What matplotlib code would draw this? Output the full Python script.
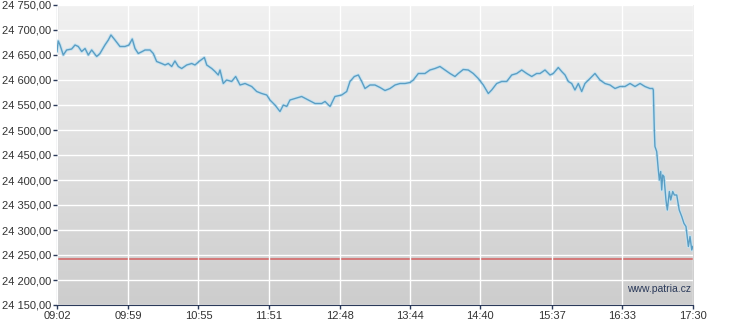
import numpy as np
import matplotlib
matplotlib.use("Agg")
import matplotlib.pyplot as plt
from matplotlib.ticker import FuncFormatter, FixedLocator
from matplotlib.colors import LinearSegmentedColormap

# minutes since 09:02
minutes = [0, 1.0, 2.4, 5.0, 7.7, 11.7, 14.4, 17.0, 19.7, 22.4, 25.0, 27.7, 31.7, 34.3, 38.3,
           41.0, 43.1, 46.3, 50.3, 54.3, 57.5, 60.1, 62.3, 64.9, 68.1, 70.3, 74.3, 76.9,
           79.6, 83.6, 86.3, 88.9, 91.6, 94.2, 96.9, 99.6, 103.6, 107.6, 110.2, 113.4,
           117.7, 119.6, 123.6, 126.2, 128.8, 130.2, 132.8, 135.5, 139.5, 142.7, 146.2,
           150.2, 152.8, 155.5, 159.5, 163.5, 167.5, 170.1, 174.1, 178.1, 180.8, 183.5,
           186.1, 190.1, 195.4, 200.7, 206.1, 211.4, 214.1, 218.1, 222.0, 227.4, 231.4,
           234.0, 237.5, 240.7, 243.4, 246.0, 250.0, 254.0, 258.0, 262.0, 266.0, 270.0,
           274.0, 278.0, 282.0, 284.6, 288.6, 293.9, 297.9, 301.9, 305.9, 309.9, 313.9,
           317.9, 320.5, 324.5, 328.5, 332.5, 336.5, 340.5, 344.5, 347.2, 351.2, 355.2,
           359.2, 363.2, 367.2, 371.2, 375.2, 379.2, 383.1, 385.8, 389.8, 393.8, 396.4,
           400.4, 403.1, 405.8, 408.4, 411.1, 413.7, 416.4, 419.1, 421.7, 425.7, 429.7,
           433.7, 437.7, 441.7, 445.7, 449.7, 453.7, 457.7, 461.7, 465.7, 469.6, 473.6,
           475.8, 476.3, 477.1, 477.6, 479.0, 480.3, 481.1, 482.2, 483.0, 483.8, 484.8,
           486.4, 487.5, 489.1, 490.2, 491.8, 493.1, 495.0, 497.0, 499.0, 500.8, 502.4,
           504.3, 505.6, 507.0, 507.8]
values = [24657, 24678, 24670, 24650, 24660, 24662, 24670, 24667, 24657, 24663, 24650,
          24660, 24647, 24653, 24670, 24680, 24690, 24680, 24667, 24667, 24670, 24682,
          24663, 24653, 24657, 24660, 24660, 24653, 24637, 24633, 24630, 24633, 24627,
          24638, 24627, 24623, 24630, 24633, 24630, 24637, 24645, 24630, 24623, 24617,
          24610, 24620, 24593, 24600, 24597, 24607, 24590, 24593, 24590, 24587, 24577,
          24573, 24570, 24560, 24550, 24537, 24550, 24547, 24560, 24563, 24567, 24560,
          24553, 24553, 24557, 24547, 24567, 24570, 24577, 24597, 24607, 24610, 24597,
          24583, 24590, 24590, 24585, 24579, 24583, 24590, 24593, 24593, 24595, 24600,
          24613, 24613, 24620, 24623, 24627, 24620, 24613, 24607, 24613, 24621, 24620,
          24613, 24603, 24590, 24573, 24580, 24593, 24597, 24597, 24610, 24613, 24620,
          24613, 24607, 24613, 24613, 24620, 24610, 24613, 24625, 24617, 24610, 24597,
          24593, 24580, 24593, 24577, 24593, 24603, 24613, 24600, 24593, 24590, 24583,
          24587, 24587, 24593, 24587, 24593, 24587, 24583, 24583, 24580, 24500, 24467,
          24457, 24420, 24400, 24417, 24380, 24410, 24407, 24360, 24340, 24377, 24360,
          24377, 24370, 24370, 24340, 24327, 24313, 24307, 24267, 24287, 24260, 24267]

ref_level = 24242
x_tick_labels = ["09:02", "09:59", "10:55", "11:51", "12:48", "13:44", "14:40", "15:37", "16:33", "17:30"]
y_ticks = [24150, 24200, 24250, 24300, 24350, 24400, 24450, 24500, 24550, 24600, 24650, 24700, 24750]


def to_min(s):
    h, m = s.split(":")
    return (int(h) * 60 + int(m)) - (9 * 60 + 2)


x_ticks = [to_min(s) for s in x_tick_labels]

plt.rcParams['font.family'] = ['Liberation Sans', 'DejaVu Sans']
fig = plt.figure(figsize=(7.31, 3.28), dpi=100)
ax = fig.add_axes([57 / 731, 23 / 328, 636 / 731, 300 / 328])

# gradient background (light at top, darker at bottom)
grad = np.linspace(0, 1, 256).reshape(-1, 1)
cmap = LinearSegmentedColormap.from_list("bg", ["#f1f1f1", "#cdcdcd"])
ax.imshow(grad, aspect="auto", cmap=cmap, extent=[0, 1, 0, 1], origin="upper",
          transform=ax.transAxes, zorder=0)

ax.set_xlim(0, 508)
ax.set_ylim(24150, 24750)

ax.xaxis.set_major_locator(FixedLocator(x_ticks))
ax.set_xticklabels(x_tick_labels)
ax.yaxis.set_major_locator(FixedLocator(y_ticks))
ax.yaxis.set_major_formatter(FuncFormatter(
    lambda v, p: "{:,.2f}".format(v).replace(",", " ").replace(".", ",")))

ax.grid(True, color="white", linewidth=1.0, zorder=1)
ax.set_axisbelow(False)

ax.axhline(ref_level, color="#d46a6a", linewidth=1.2, zorder=2)
ax.plot(minutes, values, color="#c6e2f0", linewidth=2.4, zorder=3, solid_joinstyle="round")
ax.plot(minutes, values, color="#5b9ec4", linewidth=1.0, zorder=4)

for s in ["top", "right"]:
    ax.spines[s].set_visible(False)
ax.spines["left"].set_color("#2b3a5a")
ax.spines["bottom"].set_color("#2b3a5a")
ax.tick_params(axis="both", colors="#2b3a5a", length=3, width=1, labelsize=8,
               labelcolor="#333333", pad=1.5)

ax.text(0.997, 0.055, "www.patria.cz", transform=ax.transAxes, ha="right", va="center",
        fontsize=7.5, color="#2b3a5a", zorder=5)

fig.savefig("out.png", dpi=100)
